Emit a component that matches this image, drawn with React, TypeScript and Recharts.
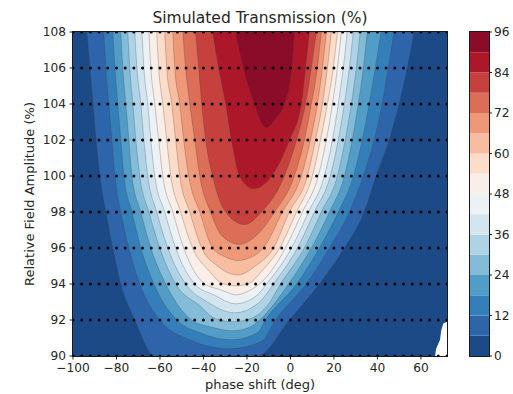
import { ComposedChart, Area, Scatter, XAxis, YAxis, BarChart, Bar } from "recharts";

// contour levels of the colour bar (%)
const levels = [0, 6, 12, 18, 24, 30, 36, 42, 48, 54, 60, 66, 72, 78, 84, 90, 96];
const bandColors = [
  "#1b4a87", "#2e65aa", "#347fb9", "#529cc8", "#83bcd9", "#aed3e6", "#d3e6f0", "#ebf1f5",
  "#f9eee8", "#fdddca", "#f8bda0", "#ee9878", "#dc6d57", "#c6413e", "#ad172a", "#8a0c28",
];

const tickPhase = [-100, -80, -60, -40, -20, 0, 20, 40, 60];
const tickAmplitude = [90, 92, 94, 96, 98, 100, 102, 104, 106, 108];
const tickTransmission = [0, 12, 24, 36, 48, 60, 72, 84, 96];

// measurement grid (black dots)
const samplePhase = [
  -100, -96, -92, -88, -84, -80, -76, -72, -68, -64, -60, -56, -52, -48, -44, -40, -36, -32, -28, -24, -20, -16,
  -12, -8, -4, 0, 4, 8, 12, 16, 20, 24, 28, 32, 36, 40, 44, 48, 52, 56, 60, 64, 68, 72,
];
const sampleAmplitude = [90, 92, 94, 96, 98, 100, 102, 104, 106, 108];

// each contour: [phase shift, amplitude] along the U-shaped line, region above is >= level
const contour0 = [[-100, 90], [72, 90]];
const contour6 = [[-93.6, 108], [-92.2, 106], [-90.8, 104], [-89.4, 102], [-87.6, 100], [-84.9, 98], [-81.7, 96], [-78.0, 94], [-71.6, 92], [-62.4, 90], [-15.1, 90], [-0.5, 92], [13.3, 94], [24.8, 96], [33.9, 98], [39.4, 100], [45.4, 102], [50.0, 104], [53.7, 106], [56.9, 108]];
const contour12 = [[-85.8, 108], [-84.9, 106], [-83.5, 104], [-82.1, 102], [-80.7, 100], [-78.0, 98], [-74.3, 96], [-69.3, 94], [-60.1, 92], [-46.3, 90.9], [-28.0, 90.4], [-13.3, 90.8], [-6.9, 92], [7.3, 94], [17.9, 96], [27.1, 98], [33.5, 100], [38.5, 102], [42.2, 104], [45.0, 106], [47.7, 108]];
const contour18 = [[-81.7, 108], [-80.7, 106], [-79.4, 104], [-78.0, 102], [-76.6, 100], [-72.9, 98], [-68.8, 96], [-62.8, 94], [-52.3, 92], [-41.7, 91.3], [-27.1, 90.9], [-15.1, 91.3], [-11.5, 92], [2.8, 94], [13.3, 96], [22.0, 98], [29.0, 100], [33.0, 102], [36.2, 104], [39.0, 106], [41.7, 108]];
const contour24 = [[-78.0, 108], [-77.1, 106], [-75.7, 104], [-74.3, 102], [-72.9, 100], [-68.8, 98], [-64.2, 96], [-57.3, 94], [-45.4, 92], [-36.2, 91.6], [-26.6, 91.4], [-18.8, 91.6], [-14.2, 92], [-0.9, 94], [9.6, 96], [17.9, 98], [24.8, 100], [28.4, 102], [31.2, 104], [33.5, 106], [35.3, 108]];
const contour30 = [[-74.8, 108], [-73.9, 106], [-72.5, 104], [-71.1, 102], [-69.3, 100], [-65.1, 98], [-60.1, 96], [-52.8, 94], [-41.7, 92.8], [-34.9, 92.1], [-26.1, 91.9], [-17.9, 92.1], [-10.6, 92.8], [-4.6, 94], [6.4, 96], [14.2, 98], [21.6, 100], [25.2, 102], [28.0, 104], [30.3, 106], [32.1, 108]];
const contour36 = [[-71.6, 108], [-70.6, 106], [-68.8, 104], [-67.4, 102], [-65.6, 100], [-61.5, 98], [-56.4, 96], [-48.2, 94], [-38.1, 93.0], [-25.7, 92.4], [-14.2, 93.0], [-7.8, 94], [3.2, 96], [11.0, 98], [18.3, 100], [22.0, 102], [24.8, 104], [27.1, 106], [28.9, 108]];
const contour42 = [[-68.3, 108], [-67.4, 106], [-65.6, 104], [-64.2, 102], [-62.4, 100], [-57.8, 98], [-52.8, 96], [-44.0, 94], [-35.3, 93.4], [-25.2, 92.9], [-15.1, 93.4], [-11.0, 94], [0.5, 96], [8.3, 98], [15.6, 100], [19.3, 102], [22.0, 104], [24.3, 106], [26.1, 108]];
const contour48 = [[-65.1, 108], [-64.2, 106], [-62.4, 104], [-60.6, 102], [-58.7, 100], [-54.1, 98], [-49.1, 96], [-39.4, 94], [-32.6, 93.7], [-24.8, 93.4], [-17.9, 93.7], [-14.2, 94], [-2.3, 96], [5.5, 98], [12.8, 100], [16.5, 102], [19.3, 104], [21.6, 106], [23.4, 108]];
const contour54 = [[-61.5, 108], [-60.6, 106], [-58.7, 104], [-56.9, 102], [-55.0, 100], [-50.5, 98], [-45.0, 96], [-37.2, 94.7], [-31.7, 94.05], [-24.8, 93.9], [-18.8, 94.05], [-13.3, 94.7], [-5.0, 96], [2.8, 98], [10.1, 100], [13.8, 102], [17.0, 104], [19.7, 106], [21.6, 108]];
const contour60 = [[-57.8, 108], [-56.9, 106], [-54.6, 104], [-52.8, 102], [-50.9, 100], [-46.3, 98], [-40.8, 96], [-33.5, 95.0], [-24.3, 94.5], [-16.1, 95.0], [-7.8, 96], [-0.5, 98], [7.8, 100], [11.5, 102], [14.7, 104], [17.0, 106], [18.8, 108]];
const contour66 = [[-54.1, 108], [-53.2, 106], [-50.9, 104], [-49.1, 102], [-46.8, 100], [-41.7, 98], [-35.8, 96], [-29.8, 95.5], [-24.3, 95.3], [-17.9, 95.5], [-12.4, 96], [-3.7, 98], [5.0, 100], [9.2, 102], [12.4, 104], [14.7, 106], [16.5, 108]];
const contour72 = [[-49.5, 108], [-48.2, 106], [-46.3, 104], [-44.0, 102], [-41.7, 100], [-36.7, 98], [-31.7, 96.7], [-23.4, 96.2], [-15.6, 96.7], [-7.3, 98], [1.8, 100], [6.4, 102], [9.6, 104], [12.4, 106], [14.2, 108]];
const contour78 = [[-43.6, 108], [-42.2, 106], [-40.8, 104], [-39.0, 102], [-35.8, 100], [-29.8, 98], [-21.1, 97.3], [-13.3, 98], [-2.8, 100], [2.8, 102], [6.9, 104], [9.6, 106], [11.9, 108]];
const contour84 = [[-35.8, 108], [-33.0, 106], [-29.8, 104], [-27.1, 102], [-23.4, 100], [-17.0, 99.3], [-8.7, 100], [-0.5, 102], [5.0, 104], [6.9, 106], [8.7, 108]];
const contour90 = [[-25.2, 108], [-21.6, 106], [-16.5, 104], [-14.2, 103.2], [-11.0, 102.7], [-6.9, 103.2], [-2.8, 104], [0.5, 106], [1.8, 108]];

// no-data corner at the bottom right
const blankPatch = [[66.5, 90.0], [67.0, 90.4], [68.8, 90.9], [69.3, 91.4], [70.3, 91.8], [72, 91.9]];

const contours = [
  contour0, contour6, contour12, contour18, contour24, contour30, contour36, contour42,
  contour48, contour54, contour60, contour66, contour72, contour78, contour84, contour90,
];

const topAmplitude = 108;
const bottomAmplitude = 90;

const dots = sampleAmplitude.flatMap((a) => samplePhase.map((p) => ({ x: p, y: a })));

const colorbarRow: Record<string, number | string> = { name: "cb" };
bandColors.forEach((_, i) => {
  colorbarRow["b" + i] = levels[i + 1] - levels[i];
});

const fmtPhase = (v: number) => (v < 0 ? `\u2212${Math.abs(v)}` : `${v}`);

const tickStyle = { fontSize: 12.2, fill: "#262626", fontFamily: "DejaVu Sans" };

function App() {
  return (
    <div
      style={{
        position: "fixed",
        left: 0,
        top: 0,
        width: 513,
        height: 394,
        overflow: "hidden",
        background: "#fff",
        fontFamily: "'DejaVu Sans', sans-serif",
      }}
    >
      <div
        style={{
          position: "absolute",
          left: 73,
          top: 11,
          width: 374,
          textAlign: "center",
          fontSize: 15.5,
          lineHeight: 1,
          color: "#262626",
          whiteSpace: "nowrap",
        }}
      >
        Simulated Transmission (%)
      </div>

      <div style={{ position: "absolute", left: 0, top: 0 }}>
        <ComposedChart width={513} height={394} margin={{ top: 32, right: 66, bottom: 2, left: 13 }}>
          <XAxis
            type="number"
            dataKey="x"
            domain={[-100, 72]}
            allowDataOverflow
            ticks={tickPhase}
            tickFormatter={fmtPhase}
            interval={0}
            height={36}
            tickSize={3.5}
            tickMargin={3.5}
            axisLine={false}
            tickLine={{ stroke: "#262626" }}
            tick={tickStyle}
            label={{ value: "phase shift (deg)", position: "insideBottom", offset: 3, fontSize: 13, fill: "#262626", fontFamily: "DejaVu Sans" }}
          />
          <YAxis
            type="number"
            dataKey="y"
            domain={[90, 108]}
            allowDataOverflow
            ticks={tickAmplitude}
            interval={0}
            width={60}
            tickSize={3.5}
            tickMargin={3.5}
            axisLine={false}
            tickLine={{ stroke: "#262626" }}
            tick={tickStyle}
            label={{
              value: "Relative Field Amplitude (%)",
              angle: -90,
              position: "insideLeft",
              offset: 16,
              fontSize: 13,
              fill: "#262626",
              fontFamily: "DejaVu Sans",
              style: { textAnchor: "middle" },
            }}
          />

          {contours.map((pts, i) => (
            <Area
              key={"c" + i}
              data={pts.map(([p, a]) => ({ x: p, band: [topAmplitude, a] }))}
              dataKey="band"
              type={i === 0 ? "linear" : "monotone"}
              fill={bandColors[i]}
              fillOpacity={1}
              stroke={i === 0 ? "none" : "#3c3c3c"}
              strokeWidth={0.6}
              strokeOpacity={0.45}
              dot={false}
              activeDot={false}
              isAnimationActive={false}
            />
          ))}

          <Area
            data={blankPatch.map(([p, a]) => ({ x: p, band: [bottomAmplitude, a] }))}
            dataKey="band"
            type="linear"
            fill="#ffffff"
            fillOpacity={1}
            stroke="none"
            dot={false}
            activeDot={false}
            isAnimationActive={false}
          />

          <Scatter
            data={dots}
            fill="#000"
            isAnimationActive={false}
            shape={(p: any) => <circle cx={p.cx} cy={p.cy} r={1.5} fill="#000" />}
          />
        </ComposedChart>
      </div>

      {/* axes frame */}
      <div
        style={{
          position: "absolute",
          left: 72,
          top: 31,
          width: 376,
          height: 326,
          boxSizing: "border-box",
          border: "1px solid #1a1a1a",
          pointerEvents: "none",
        }}
      />

      <div style={{ position: "absolute", left: 430, top: 0 }}>
        <BarChart width={90} height={394} data={[colorbarRow]} margin={{ top: 32, right: 0, bottom: 38, left: 40 }} barCategoryGap={0}>
          <XAxis dataKey="name" hide />
          <YAxis
            orientation="right"
            type="number"
            domain={[0, 96]}
            ticks={tickTransmission}
            interval={0}
            width={31}
            tickSize={3}
            tickMargin={2}
            axisLine={false}
            tickLine={{ stroke: "#262626" }}
            tick={tickStyle}
          />
          {bandColors.map((c, i) => (
            <Bar key={"b" + i} dataKey={"b" + i} stackId="cb" fill={c} isAnimationActive={false} />
          ))}
        </BarChart>
      </div>

      <div
        style={{
          position: "absolute",
          left: 469,
          top: 31,
          width: 21,
          height: 326,
          boxSizing: "border-box",
          border: "1px solid #1a1a1a",
          pointerEvents: "none",
        }}
      />

      <div
        style={{
          position: "absolute",
          left: 519,
          top: 194,
          transform: "translate(-50%, -50%) rotate(-90deg)",
          fontSize: 13,
          color: "#262626",
          whiteSpace: "nowrap",
        }}
      >
        Transmission (%)
      </div>
    </div>
  );
}

export default App;
